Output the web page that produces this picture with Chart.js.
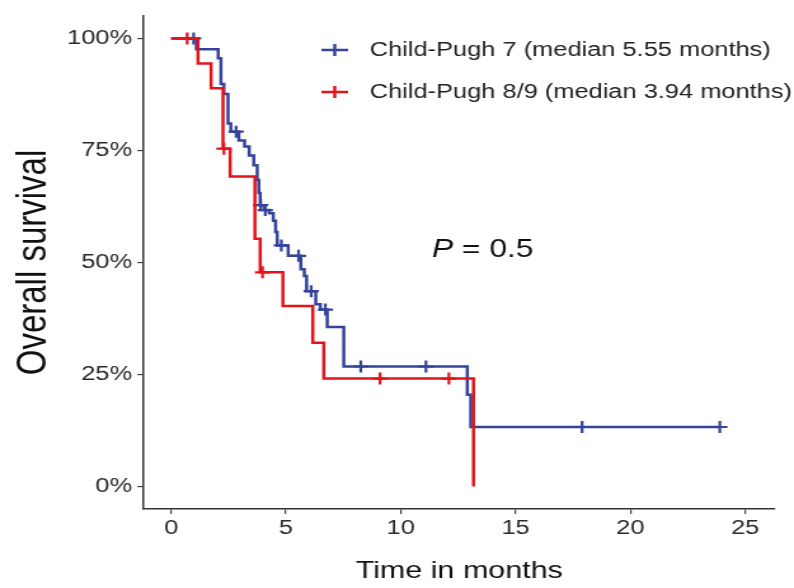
<!DOCTYPE html>
<html>
<head>
<meta charset="utf-8">
<script src="https://cdn.jsdelivr.net/npm/chart.js@4.4.1/dist/chart.umd.min.js"></script>
<style>
  html, body { margin: 0; padding: 0; background: #fff; overflow: hidden; }
  /* the source picture is stretched sideways, so the canvas is too */
  #wrap { width: 625px; height: 588px; transform: scaleX(1.2704); transform-origin: 0 0; }
</style>
</head>
<body>
<div id="wrap"><canvas id="kmChart" width="625" height="588"></canvas></div>
<script>
// Child-Pugh 7: step times (months) and survival (%) after each step
const cp7Time = [0, 1.1, 2.05, 2.17, 2.3, 2.48, 2.6, 2.95, 3.2, 3.4, 3.6, 3.75, 3.82, 3.88, 4.05, 4.27, 4.45, 4.55, 4.62, 5.1, 5.65, 5.8, 5.9, 6.3, 6.5, 6.8, 7.52, 12.9, 13.05, 23.9];
const cp7Surv = [100, 97.6, 95.6, 89.8, 87.6, 81, 79.2, 77.2, 75.9, 73.9, 71.7, 68.4, 65.5, 62.8, 61.7, 61, 59.3, 56.8, 53.8, 51.5, 48.5, 47, 43.6, 40.7, 39.5, 35.6, 26.8, 20.5, 13.3, 13.3];
const cp7CensorTime = [0.98, 2.83, 3.9, 4.1, 4.8, 5.55, 6.1, 6.72, 8.26, 11.1, 17.9, 23.9];
const cp7CensorSurv = [100, 79.2, 62.8, 61.7, 53.8, 51.5, 43.6, 39.5, 26.8, 26.8, 13.3, 13.3];

// Child-Pugh 8/9
const cp89Time = [0, 1.17, 1.74, 2.26, 2.57, 3.65, 3.88, 4.87, 6.17, 6.65, 13.17];
const cp89Surv = [100, 94.4, 88.9, 75.4, 69.2, 55.3, 47.8, 40.3, 32.1, 24.1, 0];
const cp89CensorTime = [0.7, 2.3, 3.98, 9.1, 12.1];
const cp89CensorSurv = [100, 75.4, 47.8, 24.1, 24.1];

const groupLabels = ['Child-Pugh 7 (median 5.55 months)', 'Child-Pugh 8/9 (median 3.94 months)'];
const xTicks = [0, 5, 10, 15, 20, 25];
const yTicks = [0, 25, 50, 75, 100];
const pValueText = '0.5';

const blue = '#34449a';
const red = '#e3131b';
const font = 'Liberation Sans, Arial, sans-serif';

function pts(xs, ys) {
    return xs.map((x, i) => ({x: x, y: ys[i]}));
}

// legend inside the plot + the p value
const extras = {
    id: 'extras',
    afterDraw(chart) {
        const ctx = chart.ctx;
        const cols = [blue, red];
        ctx.save();
        for (let i = 0; i < groupLabels.length; i++) {
            const y = 50 + i * 42;
            ctx.strokeStyle = cols[i];
            ctx.lineWidth = 2.5;
            ctx.beginPath();
            ctx.moveTo(253, y); ctx.lineTo(274, y);
            ctx.moveTo(263.5, y - 6); ctx.lineTo(263.5, y + 6);
            ctx.stroke();
            ctx.fillStyle = '#222';
            ctx.font = '20px ' + font;
            ctx.textBaseline = 'middle';
            ctx.textAlign = 'left';
            ctx.fillText(groupLabels[i], 291, y);
        }
        ctx.font = 'italic 25px ' + font;
        ctx.textBaseline = 'alphabetic';
        ctx.fillStyle = '#111';
        ctx.fillText('P', 340, 257);
        const w = ctx.measureText('P').width;
        ctx.font = '25px ' + font;
        ctx.fillText(' = ' + pValueText, 340 + w, 257);
        ctx.restore();
    }
};

const ctx = document.getElementById('kmChart');
const kmChart = new Chart(ctx, {
    data: {
        datasets: [
            {
                type: 'line',
                label: groupLabels[0],
                data: pts(cp7Time, cp7Surv),
                borderColor: blue,
                borderWidth: 2.5,
                stepped: 'before',
                pointRadius: 0,
                fill: false,
                order: 4
            },
            {
                type: 'scatter',
                data: pts(cp7CensorTime, cp7CensorSurv),
                borderColor: blue,
                pointStyle: 'cross',
                pointRadius: 6,
                pointBorderWidth: 2.2,
                order: 3
            },
            {
                type: 'line',
                label: groupLabels[1],
                data: pts(cp89Time, cp89Surv),
                borderColor: red,
                borderWidth: 2.5,
                stepped: 'before',
                pointRadius: 0,
                fill: false,
                order: 2
            },
            {
                type: 'scatter',
                data: pts(cp89CensorTime, cp89CensorSurv),
                borderColor: red,
                pointStyle: 'cross',
                pointRadius: 6,
                pointBorderWidth: 2.2,
                order: 1
            }
        ]
    },
    options: {
        responsive: false,
        animation: false,
        layout: {
            padding: {left: 0, right: 15, top: 10, bottom: 0}
        },
        scales: {
            x: {
                type: 'linear',
                min: -1.2,
                max: 26.3,
                afterBuildTicks: s => { s.ticks = xTicks.map(v => ({value: v})); },
                afterFit: s => { s.height = 79; },
                ticks: {
                    color: '#2a2a2a',
                    font: {family: font, size: 20},
                    padding: 2
                },
                grid: {drawOnChartArea: false, tickLength: 5, color: '#444', lineWidth: 1.2},
                border: {color: '#333', width: 1.5},
                title: {
                    display: true,
                    text: 'Time in months',
                    color: '#111',
                    font: {family: font, size: 24},
                    padding: {top: 0, bottom: 2}
                }
            },
            y: {
                min: -5,
                max: 105,
                afterBuildTicks: s => { s.ticks = yTicks.map(v => ({value: v})); },
                afterFit: s => { s.width = 113; },
                ticks: {
                    color: '#2a2a2a',
                    font: {family: font, size: 20},
                    padding: 4,
                    callback: v => v + '%'
                },
                grid: {drawOnChartArea: false, tickLength: 5, color: '#444', lineWidth: 1.2},
                border: {color: '#333', width: 1.5},
                title: {
                    display: true,
                    text: 'Overall survival',
                    color: '#111',
                    font: {family: font, size: 33},
                    padding: {top: 7, bottom: 0}
                }
            }
        },
        plugins: {
            legend: {display: false},
            tooltip: {enabled: false}
        }
    },
    plugins: [extras]
});
</script>
</body>
</html>
